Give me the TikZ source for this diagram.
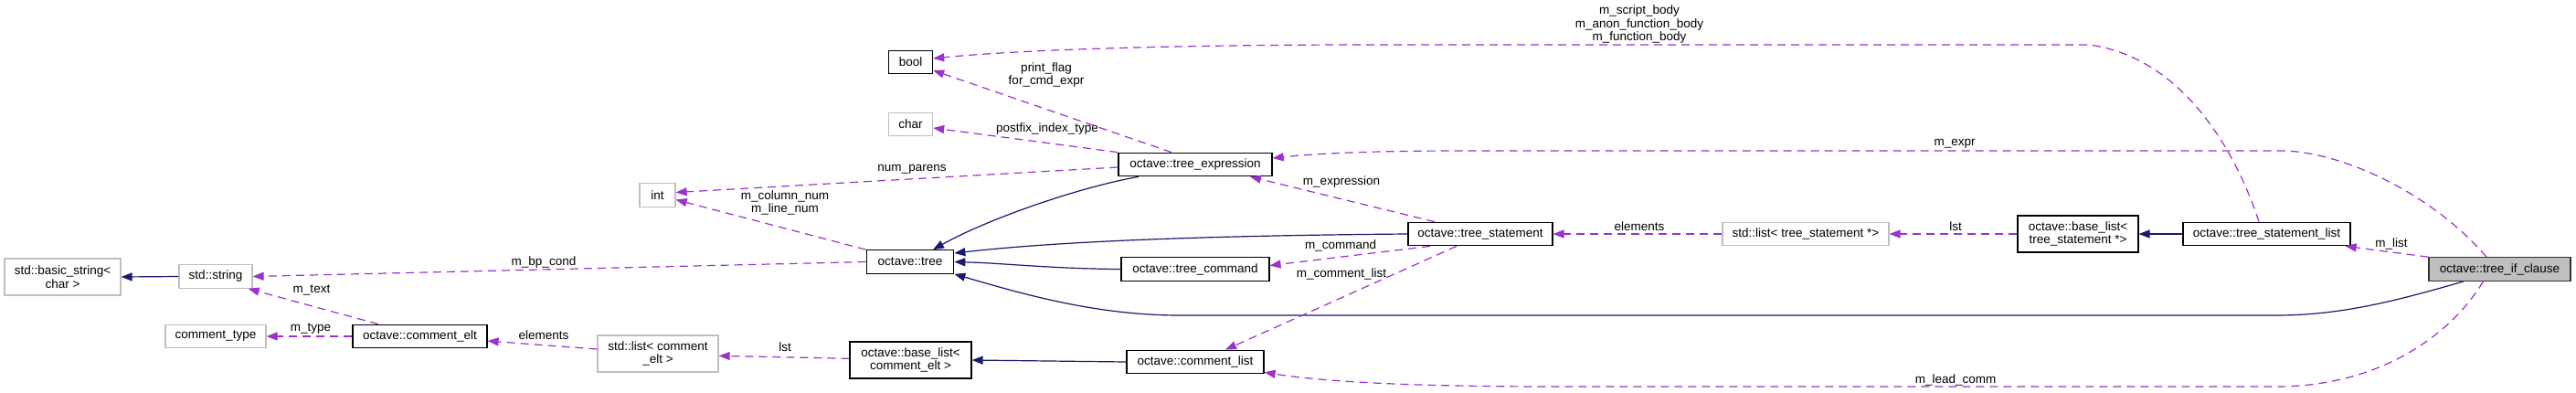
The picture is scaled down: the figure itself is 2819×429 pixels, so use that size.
\documentclass[tikz,border=0pt]{standalone}
\usepackage{fontspec}
\setmainfont{Liberation Sans}
\usetikzlibrary{arrows.meta}
\definecolor{edgepurple}{HTML}{9A32CD}
\definecolor{inhblue}{HTML}{191970}
\definecolor{grayline}{HTML}{BFBFBF}
\definecolor{focusfill}{HTML}{BFBFBF}
\begin{document}
\begin{tikzpicture}[x=1pt,y=-1pt,
  box/.style={draw=black, line width=1.2pt, inner sep=0pt, minimum height=25.5pt, align=center, font=\fontsize{13.5}{14.5}\selectfont, fill=white},
  gbox/.style={box, draw=grayline},
  focus/.style={box, fill=focusfill, draw=black!80},
  inh/.style={draw=inhblue, line width=1.2pt, -{Triangle[length=12pt,width=9pt]}},
  comp/.style={draw=edgepurple, line width=1.2pt, dash pattern=on 9pt off 6pt, -{Triangle[length=12pt,width=9pt]}},
  lbl/.style={font=\fontsize{13.5}{14.5}\selectfont, align=center, inner sep=0pt}]
\useasboundingbox (0,0) rectangle (2819,429);
\fill[white] (0,0) rectangle (2819,429);

% nodes
\node[gbox, minimum width=127pt, minimum height=40pt] (bstr) at (68.5,303) {std::basic\_string<\\char >};
\node[gbox, minimum width=80pt] (str) at (236,302.5) {std::string};
\node[gbox, minimum width=110pt] (ctype) at (236,368) {comment\_type};
\node[box, minimum width=147pt] (celt) at (459.5,368) {octave::comment\_elt};
\node[gbox, minimum width=39pt] (int) at (719.5,213.5) {int};
\node[box, minimum width=95.5pt] (tree) at (996,286.5) {octave::tree};
\node[gbox, minimum width=132pt, minimum height=40pt] (lcelt) at (720,387) {std::list< comment\\\_elt >};
\node[box, minimum width=133pt, minimum height=40pt] (blcelt) at (996.5,394) {octave::base\_list<\\comment\_elt >};
\node[box, minimum width=48pt] (bool) at (996.6,68) {bool};
\node[gbox, minimum width=48pt] (char) at (996.6,136) {char};
\node[box, minimum width=168pt] (texpr) at (1308,180) {octave::tree\_expression};
\node[box, minimum width=158pt] (tstmt) at (1620,256) {octave::tree\_statement};
\node[box, minimum width=162pt] (tcmd) at (1308,294.5) {octave::tree\_command};
\node[box, minimum width=150pt] (clist) at (1308,396) {octave::comment\_list};
\node[gbox, minimum width=182pt] (ltstmt) at (1976,256) {std::list< tree\_statement *>};
\node[box, minimum width=132pt, minimum height=40pt] (bltstmt) at (2274,256) {octave::base\_list<\\tree\_statement *>};
\node[box, minimum width=183pt] (tslist) at (2480.5,256) {octave::tree\_statement\_list};
\node[focus, minimum width=155pt] (ifc) at (2735.5,294.5) {octave::tree\_if\_clause};

% inheritance
\draw[inh] (str.west) -- (bstr.east);
\draw[inh] ([xshift=-62pt]texpr.south) .. controls (1180,205) and (1080,240) .. ([xshift=25pt]tree.north);
\draw[inh] (tstmt.west) .. controls (1300,258) and (1150,265) .. ([yshift=9.5pt]tree.east);
\draw[inh] (tcmd.west) .. controls (1150,294) and (1100,288) .. (tree.east);
\draw[inh] ([xshift=-39.5pt]ifc.south) .. controls (2620,330) and (2560,345) .. (2491,345) -- (1291,345) .. controls (1200,345) and (1120,322) .. (tree.south east);
\draw[inh] (clist.west) -- (blcelt.east);
\draw[inh] (tslist.west) -- (bltstmt.east);

% composition
\draw[comp] ([xshift=-45.5pt]celt.north) -- ([xshift=-5pt]str.south east);
\draw[comp] (celt.west) -- (ctype.east);
\draw[comp] (tree.west) -- (str.east);
\draw[comp] (tree.north west) -- ([yshift=-5pt]int.east);
\draw[comp] ([yshift=-3pt]texpr.west) -- ([yshift=3pt]int.east);
\draw[comp] ([xshift=-26pt]texpr.north) -- ([yshift=-9pt]bool.east);
\draw[comp] (texpr.north west) -- ([yshift=-4pt]char.east);
\draw[comp] ([xshift=-50pt]tstmt.north) -- ([xshift=60pt]texpr.south);
\draw[comp] ([xshift=-55pt]tstmt.south) -- ([yshift=4pt]tcmd.east);
\draw[comp] ([xshift=-26pt]tstmt.south) -- ([xshift=33pt]clist.north);
\draw[comp] (ltstmt.west) -- (tstmt.east);
\draw[comp] (bltstmt.west) -- (ltstmt.east);
\draw[comp] ([yshift=5pt]lcelt.west) -- ([yshift=-5pt]celt.east);
\draw[comp] ([yshift=1.7pt]blcelt.west) -- ([yshift=-2.3pt]lcelt.east);
\draw[comp] ([xshift=-8.5pt]tslist.north) .. controls (2445,160) and (2385,62) .. (2286,49) -- (1500,49) .. controls (1250,49) and (1100,56) .. ([yshift=4pt]bool.east);
\draw[comp] ([xshift=-14.5pt]ifc.north) .. controls (2660,210) and (2560,165) .. (2496,165) -- (1600,165) .. controls (1500,165) and (1440,168) .. ([yshift=7pt]texpr.east);
\draw[comp] (ifc.north west) -- ([xshift=-6pt]tslist.south east);
\draw[comp] ([xshift=-18pt]ifc.south) .. controls (2680,370) and (2600,423) .. (2491,423) -- (1700,423) .. controls (1550,423) and (1450,418) .. ([yshift=2pt]clist.south east);

% labels
\node[lbl] (lmtext) at (341,317) {m\_text};
\node[lbl] (lmtype) at (340,360) {m\_type};
\node[lbl] (lbp) at (595,287) {m\_bp\_cond};
\node[lbl] (lcol) at (859,222) {m\_column\_num\\m\_line\_num};
\node[lbl] (lnp) at (998,185) {num\_parens};
\node[lbl] (lpf) at (1145,82) {print\_flag\\for\_cmd\_expr};
\node[lbl] (lpit) at (1146,141) {postfix\_index\_type};
\node[lbl] (lmex) at (1468,199) {m\_expression};
\node[lbl] (lmcmd) at (1467,269) {m\_command};
\node[lbl] (lmcl) at (1468,300) {m\_comment\_list};
\node[lbl] (lel1) at (1794,248) {elements};
\node[lbl] (llst1) at (2140,248) {lst};
\node[lbl] (lel2) at (595,367) {elements};
\node[lbl] (llst2) at (859,380) {lst};
\node[lbl] (lsb) at (1794,27) {m\_script\_body\\m\_anon\_function\_body\\m\_function\_body};
\node[lbl] (lmexpr) at (2139,157) {m\_expr};
\node[lbl] (lmlist) at (2617,267) {m\_list};
\node[lbl] (llc) at (2140,416) {m\_lead\_comm};
\end{tikzpicture}
\end{document}
